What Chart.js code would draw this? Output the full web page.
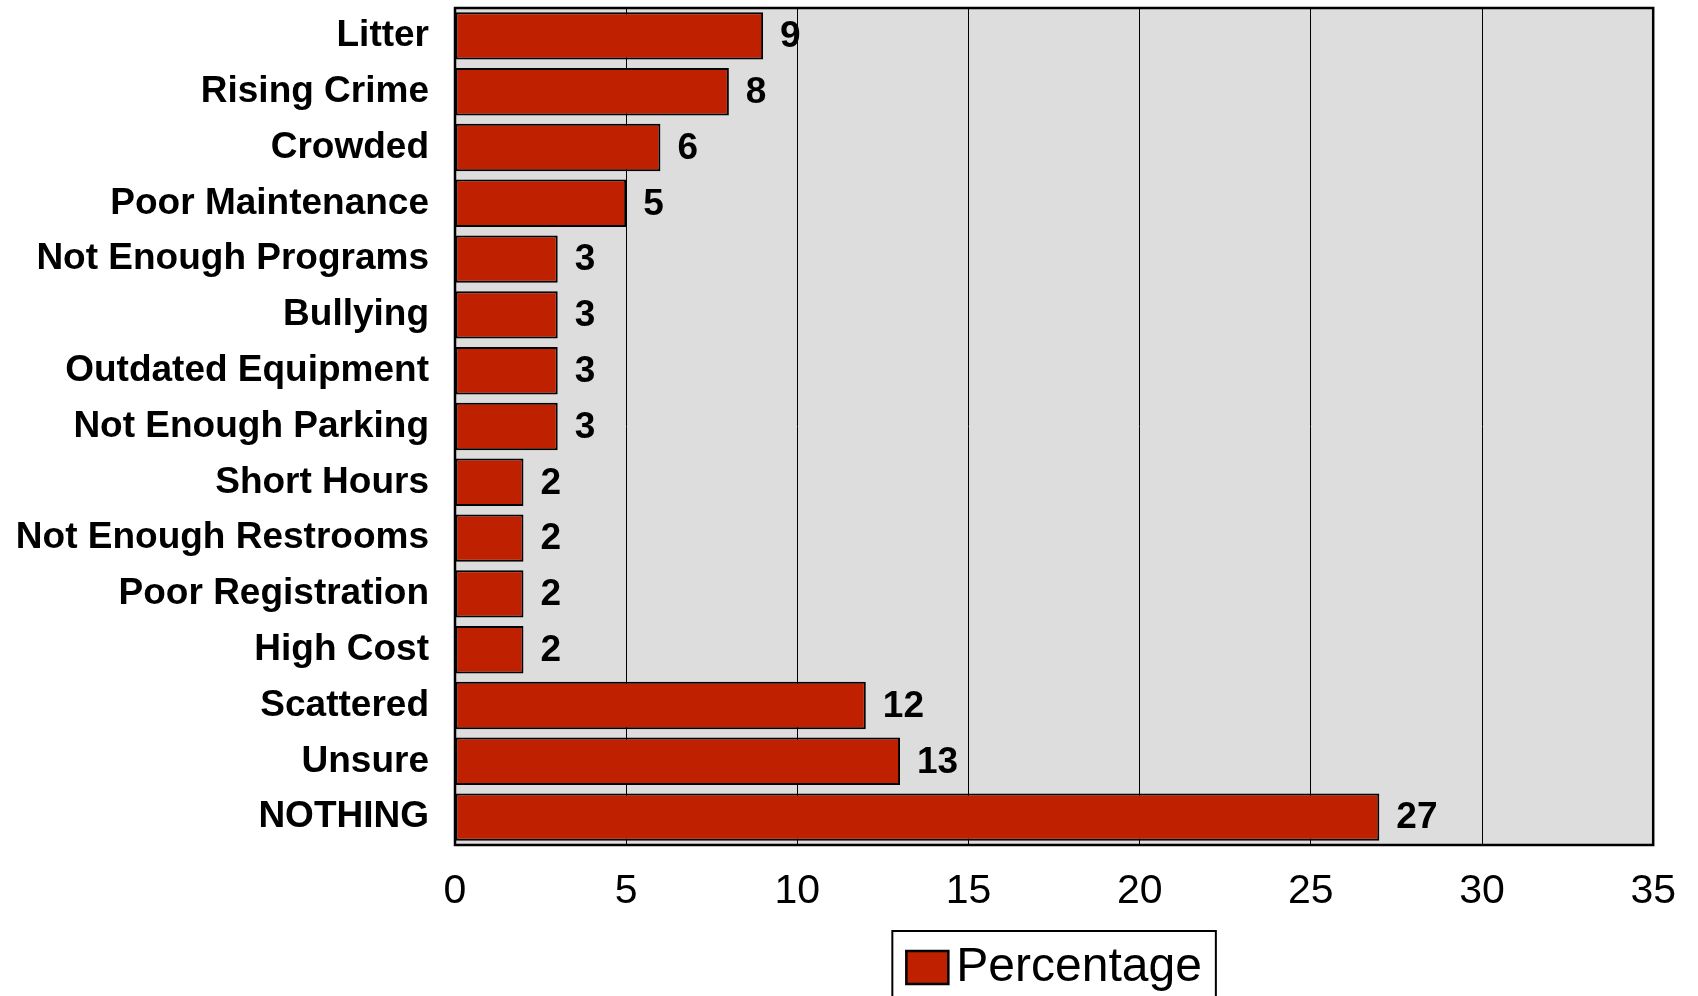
<!DOCTYPE html>
<html>
<head>
<meta charset="utf-8">
<script src="https://cdn.jsdelivr.net/npm/chart.js@4/dist/chart.umd.min.js"></script>
<style>
  html, body { margin: 0; padding: 0; background: #fff; }
  #wrap { width: 1698px; height: 996px; position: relative; }
</style>
</head>
<body>
<div id="wrap"><canvas id="issues-chart"></canvas></div>
<script>
// values
const categories = ['Litter', 'Rising Crime', 'Crowded', 'Poor Maintenance', 'Not Enough Programs',
  'Bullying', 'Outdated Equipment', 'Not Enough Parking', 'Short Hours', 'Not Enough Restrooms',
  'Poor Registration', 'High Cost', 'Scattered', 'Unsure', 'NOTHING'];
const percentages = [9, 8, 6, 5, 3, 3, 3, 3, 2, 2, 2, 2, 12, 13, 27];
const seriesLabel = 'Percentage';
const xTicks = [0, 5, 10, 15, 20, 25, 30, 35];

const BAR_RED = '#BE2000';
const FONT = 'Arial, "Liberation Sans", sans-serif';

// grey plot background + frame
const plotFrame = {
  id: 'plotFrame',
  beforeDraw(chart) {
    const { ctx, chartArea: a } = chart;
    ctx.save();
    ctx.fillStyle = '#DDDDDD';
    ctx.fillRect(a.left, a.top, a.right - a.left, a.bottom - a.top);
    ctx.restore();
  },
  afterDatasetsDraw(chart) {
    const { ctx, chartArea: a } = chart;
    ctx.save();
    ctx.strokeStyle = '#000';
    ctx.lineWidth = 2.5;
    ctx.strokeRect(a.left, a.top, a.right - a.left, a.bottom - a.top);
    ctx.restore();
  }
};

// numbers at the end of each bar
const barValues = {
  id: 'barValues',
  afterDatasetsDraw(chart) {
    const { ctx } = chart;
    const meta = chart.getDatasetMeta(0);
    ctx.save();
    ctx.font = 'bold 37px ' + FONT;
    ctx.fillStyle = '#000';
    ctx.textAlign = 'left';
    ctx.textBaseline = 'middle';
    meta.data.forEach((bar, i) => {
      ctx.fillText(String(chart.data.datasets[0].data[i]), bar.x + 17, bar.y + 1);
    });
    ctx.restore();
  }
};

// boxed legend under the plot
const boxedLegend = {
  id: 'boxedLegend',
  afterDraw(chart) {
    const { ctx, chartArea: a } = chart;
    const ds = chart.data.datasets[0];
    ctx.save();
    ctx.font = '48px ' + FONT;
    const textW = ctx.measureText(ds.label).width;
    const boxW = 42, boxH = 33, pad = 14, gap = 8;
    const w = pad + boxW + gap + textW + pad;
    const left = (a.left + a.right) / 2 - w / 2;
    const top = a.bottom + 86;
    ctx.strokeStyle = '#000';
    ctx.lineWidth = 2;
    ctx.strokeRect(left, top, w, 120);
    ctx.fillStyle = ds.backgroundColor;
    ctx.fillRect(left + pad, top + 20, boxW, boxH);
    ctx.lineWidth = 2.5;
    ctx.strokeRect(left + pad, top + 20, boxW, boxH);
    ctx.fillStyle = '#000';
    ctx.textAlign = 'left';
    ctx.textBaseline = 'middle';
    ctx.fillText(ds.label, left + pad + boxW + gap, top + 37);
    ctx.restore();
  }
};

const ctx = document.getElementById('issues-chart');
new Chart(ctx, {
  type: 'bar',
  data: {
    labels: categories,
    datasets: [{
      label: seriesLabel,
      data: percentages,
      backgroundColor: BAR_RED,
      borderColor: '#000',
      borderWidth: 2,
      borderSkipped: false,
      categoryPercentage: 1,
      barPercentage: 0.85
    }]
  },
  options: {
    indexAxis: 'y',
    responsive: true,
    maintainAspectRatio: false,
    animation: false,
    layout: { padding: { left: 0, right: 41, top: 8, bottom: 0 } },
    plugins: {
      legend: { display: false },
      tooltip: { enabled: false }
    },
    scales: {
      x: {
        min: xTicks[0],
        max: xTicks[xTicks.length - 1],
        afterBuildTicks: s => { s.ticks = xTicks.map(v => ({ value: v })); },
        afterFit: s => { s.height = 151; },
        grid: { color: '#000', lineWidth: 1, drawTicks: false },
        border: { display: false },
        ticks: { color: '#000', padding: 22, font: { family: FONT, size: 41 } }
      },
      y: {
        afterFit: s => { s.width = 455; s.paddingTop = 0; s.paddingBottom = 0; },
        grid: { display: false, drawTicks: false },
        border: { display: false },
        ticks: { color: '#000', padding: 26, font: { family: FONT, size: 37, weight: 'bold' } }
      }
    }
  },
  plugins: [plotFrame, barValues, boxedLegend]
});
</script>
</body>
</html>
